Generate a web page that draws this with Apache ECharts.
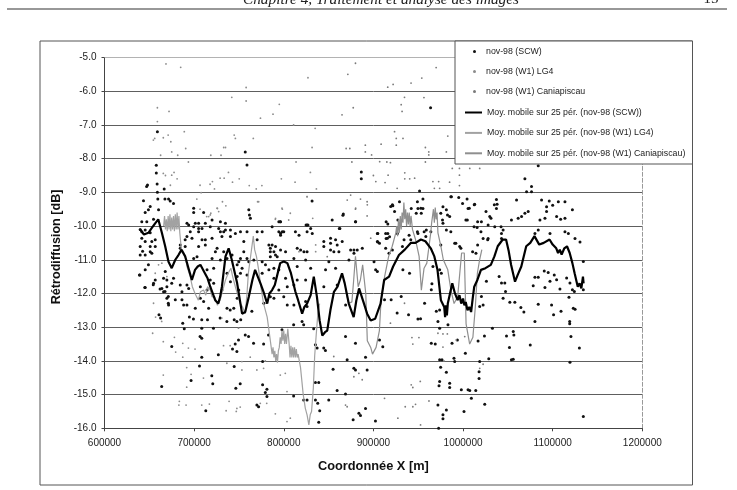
<!DOCTYPE html>
<html>
<head>
<meta charset="utf-8">
<style>html,body{margin:0;padding:0;background:#fff}#c{width:737px;height:490px}</style>
<script src="https://cdn.jsdelivr.net/npm/echarts@6/dist/echarts.min.js"></script>
</head>
<body>
<div id="c"></div>
<script>
// Coordinates are stored as [X in km, backscatter in dB].
const xTicks = [600000, 700000, 800000, 900000, 1000000, 1100000, 1200000];
const names = ['nov-98 (SCW)', 'nov-98 (W1) LG4', 'nov-98 (W1) Caniapiscau',
  'Moy. mobile sur 25 pér. (nov-98 (SCW))', 'Moy. mobile sur 25 pér. (nov-98 (W1) LG4)', 'Moy. mobile sur 25 pér. (nov-98 (W1) Caniapiscau)'];

const scwPoints = [
[643.5,-9.25],[645.4,-9.6],[660.3,-9.52],[659.5,-9.2],[667.4,-9.2],[671.5,-9.2],[673.3,-9.26],[677,-9.33],[699.5,-9.47],[699.5,-9.6],[710.6,-9.6],[720,-9.82],[729.3,-9.87],[734.9,-9.92],[761,-9.52],[761.7,-9.67],[762.8,-9.77],[651,-9.42],[649,-9.52],[641.6,-9.87],[647.2,-9.87],[654.7,-9.8],[639.8,-10.1],[641.6,-10.17],[645.4,-10.12],[651,-10.2],[641.6,-10.36],[652.8,-10.46],[656.6,-10.41],[645.4,-10.46],[639.8,-10.61],[651,-10.61],[656.6,-10.61],[651,-10.76],[652.8,-10.81],[645.4,-10.86],[639.8,-10.86],[649,-11.15],[692,-9.92],[693.9,-9.97],[701.3,-9.92],[705,-9.92],[705,-10.07],[699.5,-10.02],[695.7,-10.17],[705,-10.17],[708.8,-10.07],[712.5,-9.92],[718,-10.02],[727.4,-10.07],[734.9,-10.12],[740.5,-10.12],[729.3,-10.17],[733,-10.17],[751.7,-10.17],[759,-10.17],[770.3,-10.17],[775.9,-10.17],[787,-10.02],[794.5,-9.87],[796.4,-9.87],[794.5,-10.17],[796.4,-10.22],[798.3,-10.17],[796.4,-10.27],[800,-10.17],[826,-9.97],[813,-10.17],[826,-10.17],[692,-10.31],[690,-10.41],[697.6,-10.36],[708.8,-10.41],[712.5,-10.41],[720,-10.36],[731,-10.31],[740.5,-10.31],[746,-10.22],[755.4,-10.46],[770.3,-10.41],[783.4,-10.56],[787,-10.56],[785,-10.66],[790.8,-10.61],[785,-10.76],[789,-10.76],[796.4,-10.71],[802,-10.76],[785,-10.91],[790.8,-10.86],[792.7,-10.91],[830,-10.07],[831.8,-10.22],[815,-10.66],[818.8,-10.71],[822.5,-10.76],[826,-10.76],[817,-10.27],[684.5,-10.56],[684.5,-10.66],[690,-10.61],[705,-10.61],[712.5,-10.56],[725.6,-10.66],[733,-10.76],[723.7,-10.76],[742.3,-10.86],[755.4,-10.76],[759,-10.96],[751.7,-10.96],[749.8,-11.06],[761,-11.06],[766.6,-11.01],[775.9,-11.06],[779.6,-11.15],[783.4,-11.3],[824.4,-11.01],[811.3,-10.96],[815,-11.2],[830,-11.25],[699.5,-10.96],[703.2,-10.91],[720,-10.96],[729.3,-11.01],[736.7,-10.96],[748,-11.15],[753.5,-11.25],[714.4,-11.3],[721.8,-11.25],[736.7,-11.4],[751.7,-11.4],[759,-11.45],[775.9,-11.4],[789,-11.25],[794.5,-11.3],[789,-11.55],[802,-11.55],[811.3,-11.75],[815,-11.6],[824.4,-11.6],[740.5,-11.65],[748,-11.5],[718,-11.6],[721.8,-11.7],[639,-11.45],[645.4,-11.3],[667.8,-11.35],[665.9,-11.55],[656.6,-11.6],[669.6,-11.6],[677,-11.55],[675,-11.7],[669.6,-11.8],[664,-11.85],[665.9,-11.95],[645.4,-11.82],[654.7,-11.7],[692,-11.75],[693.9,-11.85],[686.4,-11.95],[684.5,-11.75],[706.9,-11.8],[714.4,-11.9],[731,-11.9],[749.8,-11.9],[785,-12.1],[794.5,-11.9],[803.9,-11.8],[803.9,-12.34],[811.3,-12.34],[824.4,-12.24],[826,-12.39],[669.6,-12.14],[679,-12.19],[686.4,-12.19],[688.3,-12.34],[692,-12.34],[671.5,-12.34],[706.9,-12.14],[710.6,-12.24],[716.2,-12.44],[701.3,-12.44],[748,-12.14],[777.8,-12.29],[789,-12.14],[800,-12.1],[736.7,-12.44],[744.2,-12.44],
[639.5,-11.45],[645,-11.82],[642.5,-10.75],[654.4,-11.74],[662,-11.87],[667.5,-11.94],[671.2,-12.09],[671.2,-12.29],[675,-13.57],[660.8,-12.63],[662.6,-12.73],[663.8,-14.76],[687.3,-12.88],[689,-13.05],[694.7,-12.7],[699.2,-12.76],[708.5,-12.78],[714.9,-12.78],[708.5,-13.03],[721.6,-13.03],[706.6,-13.28],[708.5,-13.33],[740.2,-12.49],[729,-12.73],[736.5,-12.83],[747.7,-12.83],[744.7,-12.78],[752,-12.78],[764.4,-12.53],[757,-13.23],[760.7,-13.28],[749.5,-13.38],[745.8,-13.5],[742.8,-13.65],[747.7,-13.72],[727,-13.82],[708.5,-13.89],[706,-14.15],[719.7,-14.44],[720.8,-14.68],[696.6,-14.58],[744.7,-14.17],[746.5,-14.81],[751.4,-14.68],[713,-15.48],[770,-15.31],[771.9,-15.36],[779.4,-14.94],[781.2,-14.84],[781.2,-15.06],[776.4,-14.71],[776.4,-14.02],[766.3,-13.48],[777.5,-13.5],[783,-13.23],[798,-13.08],[811,-12.93],[820.4,-12.83],[822.2,-12.93],[833.4,-13.05],[837.2,-13.62],[835.3,-13.52],[844.6,-13.62],[846.5,-13.69],[811,-15.04],[822.2,-15.16],[826,-15.16],[835.3,-14.64],[839,-14.64],[835.3,-15.16],[837.9,-15.26],[840.1,-15.48],[839,-15.82],[850.2,-15.16],[855,-14.25],[859.5,-14.88],[868.9,-14.98],[870.7,-13.97],[868.9,-13.28],[880,-13.48],[878.2,-14.22],[880,-14.27],[891.2,-13.89],[891.2,-15.41],[877.4,-15.75],[883.8,-15.55],[885.6,-15.62],[893,-14.27],
[912.4,-12.19],[919.8,-12.19],[931,-12.09],[926.5,-12.58],[939.2,-12.63],[949.7,-12.76],[952.6,-12.75],[906.8,-13.38],[910.5,-13.58],[965.3,-11.71],[964.6,-11.89],[957.1,-12.29],[970.2,-12.53],[973.9,-12.49],[972,-12.83],[983.2,-12.93],[973.9,-13.03],[964.6,-13.48],[969,-13.5],[987.7,-13.48],[993.7,-13.38],[1002.6,-13.77],[973.9,-13.97],[976.5,-13.97],[989.9,-13.92],[990.7,-14.02],[975,-14.19],[981.4,-14.34],[973.9,-14.61],[985.1,-14.66],[973.2,-14.74],[985.1,-14.79],[998.1,-14.86],[972,-15.31],[981.4,-15.46],[977.6,-15.6],[977.6,-15.72],[1001.1,-15.5],[1009.3,-15.11],[1024.2,-15.29],[902.3,-15.78],[972.8,-16],[1018.6,-14.02],[1017.9,-14.32],[1017.9,-14.52],[1007.5,-14.88],[1014.2,-14.88],[1005.6,-14.86],[1028.7,-13.94],[1054,-13.97],[1056,-13.95],[1119.3,-14.04],[1129.8,-13.62],[1120.4,-13.28],[1075,-13.53],[1051.8,-13.6],[1048.5,-13.26],[1056.7,-13.23],[1056,-13.13],[1023.9,-13.26],[1016.8,-13.41],[1032.8,-13.03],[1020.5,-12.09],[1022.4,-12.34],[1018.6,-12.39],[1044.7,-12.14],[1052.2,-12.26],[1057.8,-12.26],[1064.5,-12.42],[1067.9,-12.55],[1047.4,-11.94],[1080.2,-12.83],[1083.9,-12.32],[1098.8,-12.34],[1101,-12.63],[1109.3,-12.53],[1118.2,-12.11],[1123,-12.44],[1125,-12.47],[1119,-12.83],[1119,-12.9],[1134.2,-15.65],[1078.3,-11.77],[1080.2,-11.52],[1083.9,-11.52],[1090.6,-11.33],[1095,-11.38],[1101.8,-11.45],[1104.4,-11.59],[1115.6,-11.54],[1119.3,-11.69],[1122,-11.89],[1134.2,-11.89],[1124.2,-11.94],[1091.4,-11.82],[1097,-11.64],[1108.1,-11.87],[1042.9,-11.69],[1046.6,-11.69],[1026.1,-11.64],[1040.3,-11.5],[940.3,-11.4],[932.9,-11.3],[966.4,-11.2],[973.9,-11.3],[975.8,-11.4],[1134.2,-11.05],
[1083.9,-8.21],[1069,-8.6],[1076.4,-8.83],[1070.9,-8.98],[1076.4,-8.98],[951.5,-8.96],[987,-9.13],[955.3,-9.2],[995.2,-9.15],[1004.5,-9.2],[1037.3,-9.21],[1038,-9.35],[1059.7,-9.23],[1037.3,-9.48],[1013,-9.35],[1005.6,-9.48],[1087.6,-9.23],[1096.2,-9.26],[1106.3,-9.28],[1113.7,-9.28],[1100,-9.38],[1122,-9.52],[1093.2,-9.43],[1093.2,-9.57],[1072.7,-9.57],[1069,-9.62],[1065.3,-9.72],[1061.5,-9.77],[1054,-9.82],[1085.8,-9.82],[1091.4,-9.77],[1104.4,-9.72],[1108.9,-9.8],[1113.7,-9.77],[1029.8,-9.72],[1004.8,-9.82],[1020.5,-9.87],[1012.3,-10.02],[1015.7,-10.04],[1028,-9.97],[1035.4,-10.02],[1044.7,-10.12],[1042.9,-10.22],[955.3,-9.48],[949.7,-9.48],[942.2,-9.48],[929.1,-9.28],[921.7,-9.4],[923.6,-9.57],[927.3,-9.82],[914.2,-9.87],[916.1,-9.94],[947.8,-9.62],[953.4,-9.62],[981.4,-9.52],[977.6,-9.43],[985.1,-9.72],[977.6,-9.92],[981.4,-10.12],[990.7,-10.51],[996.3,-10.61],[904.9,-10.22],[916.1,-10.22],[918,-10.32],[914.2,-10.37],[904.9,-10.47],[906.8,-10.51],[949.7,-10.22],[959,-10.12],[1022.4,-10.37],[1028,-10.37],[1042.9,-10.37],[1083.9,-10.12],[1080.2,-10.22],[1097,-10.22],[1113.7,-10.17],[1124.9,-10.37],[1130.5,-10.47],[1117.5,-10.22],
[866.4,-9.64],[880.2,-9.87],[854,-9.82],[862.6,-10.07],[844.7,-10.46],[852.2,-10.36],[857.8,-10.41],[865.2,-10.46],[844.7,-10.61],[852.2,-10.51],[859.6,-10.56],[852.2,-10.71],[855.9,-10.76],[861.5,-10.76],[874.6,-10.71],[878.3,-10.71],[882,-10.71],[887.6,-10.66],[878.3,-10.81],[872.7,-11.01],[850.3,-11.06],[857.8,-11.25],[846.6,-11.3],[904.4,-10.22],[913.7,-10.22],[904.4,-10.46],[915.6,-10.36],[921.2,-9.37],[919.3,-9.42],[949.1,-9.28],[952.9,-9.47],[975.2,-9.62],[982.7,-9.67],[977.1,-9.82],[986.4,-10.17],[1003.2,-9.82],[1007,-9.47],[1012.5,-9.37],[999.5,-9.33],[986.4,-9.13],[1025.6,-9.57],[1016.3,-9.87],[1031.2,-9.77],[1020,-10.17],[1042.4,-10.02],[1034.9,-9.37],[1027.5,-10.41],[1016.3,-10.56],[1010.7,-10.76],[1014.4,-10.81],[992,-10.51],[997.6,-10.66],[939.8,-10.27],[949.1,-10.17],[956.6,-10.17],[964.1,-10.17],[934.2,-10.41],[941.7,-10.41],[958.5,-10.31],[975.2,-10.56],[926.8,-10.22],[900.7,-11.06],[904.4,-11.35],[917.4,-10.81],[921.2,-10.71],[902.5,-11.3],[913.7,-10.66],[932.4,-10.61],[844.7,-11.8],[859.6,-11.75],[869,-12.34],
[659,-7.2],[757,-7.8],[759,-8.19],[657.8,-8.2],[657.8,-8.43],[658.7,-8.75],[647,-8.83],[648,-8.78],[666.6,-8.9],[659,-9],[886.5,-8.4],[886.5,-8.6],[831.6,-9.26],[866,-9.68],[880,-9.87],[824.9,-9.97],[827,-9.97],[862,-10.07],[796,-9.87],[963.8,-6.49]
];

const lg4Points = [
[668.6,-5.19],[685,-5.29],[659,-6.49],[672,-6.6],[659,-6.9],[742,-6.18],[758,-5.89],[758,-6.29],[795,-6.39],[774,-6.8],[788,-6.68],[827,-5.6],[835,-7.1],[811,-7],[654.5,-7.45],[656,-7.4],[671,-7.3],[674,-7.5],[665.6,-7.38],[689,-7.2],[690.6,-7.7],[662.6,-7.9],[675,-7.8],[681.7,-7.9],[693.6,-8.1],[718.6,-7.9],[730,-7.9],[733,-7.67],[735,-7.67],[744.7,-7.3],[746,-7.4],[766,-7.4],[831.6,-7.67],[813.7,-8.1],
[665.6,-8.44],[668,-8.5],[675,-8.49],[677.6,-8.41],[681,-8.6],[673.5,-8.79],[706.6,-8.79],[717.8,-8.76],[720.4,-8.68],[722.7,-8.9],[729,-8.58],[733.5,-8.58],[738.3,-8.41],[742.8,-8.7],[750.3,-8.6],[761.5,-8.8],[775.6,-8.8],[769.3,-8.9],[797.3,-8.6],[812.6,-8.7],[829.7,-8.41],[836.4,-8.9],[770.8,-9.28],[798.4,-9.5],[807.3,-9.62],[826,-9.13],[832.3,-9.77],[703,-9.2],[707.8,-9.01],[706.6,-9.5],[714,-9.72],[718.6,-9.62],[726,-9.48],[731.6,-9.28],[735.4,-9.4],[790.6,-9.8],[805.5,-9.82],
[653.7,-13.18],[657,-12.7],[663.8,-12.83],[665.6,-14.42],[665.6,-13.43],[678,-13.3],[679.4,-13.74],[687.3,-13.48],[693.6,-13.62],[701,-13.65],[687.3,-13.89],[691.7,-14.2],[696.6,-14.4],[710.4,-14.51],[691.7,-14.78],[683.5,-15.2],[683,-15.31],[691,-15.31],[708.5,-15.31],[717,-15.28],[735.7,-15.48],[739,-15.2],[747.7,-15.41],[751.4,-15.37],[747,-15.5],[790.6,-15.57],[781,-15.26],[773.8,-15.26],[803.6,-15.8],[807.3,-15.7],[803.6,-14.91],[801.7,-14.37],[736.5,-14.07],[753.3,-14.27],[753.3,-14.02],[762.6,-13.89],[770,-14.27],[777.5,-14.22],[779.4,-14],[796.1,-14.42],[732.8,-13.55],[740.2,-13.55],[730.9,-12.73],[749.5,-13.03],
[660.3,-11.15],[664,-11.1],[656.6,-11.4],[669.6,-11.5],[654.7,-12.29],[725.6,-9.47],[718,-9.67],[716.2,-9.72],[727.4,-9.57],[772,-9.28],[798,-9.47],[817,-10.76],[835.6,-10.56],[835.6,-10.76],[790.8,-9.77],[826,-9.13]
];

const caniapiscauPoints = [
[871.5,-5.5],[880,-5.17],[877.5,-6.49],[865,-6.7],[891,-7.6],[869.6,-7.7],[873.7,-7.7],[891,-7.8],[876,-8.1],[885.6,-9.2],[893,-9.28],[880,-9.5],[893,-9.7],
[970,-5.3],[954,-5.61],[942,-5.76],[916,-5.88],[922,-5.8],[934.7,-6.18],[956.4,-6.19],[931,-6.4],[932,-6.6],[923.6,-7.2],[925.5,-7.4],[933,-7.4],[908.6,-7.57],[925.5,-7.6],[898,-7.89],[958,-7.67],[961.8,-7.8],[961.8,-7.89],[981.4,-7.8],[983,-7.33],[907,-8.09],[915,-8.1],[919,-8.12],[958,-8.1],[988,-8.29],[996,-8.29],[1007.5,-8.29],[1018.6,-8.29],[900,-8.5],[916.4,-8.49],[935,-8.42],[935,-8.6],[940.5,-8.6],[946,-8.58],[902.7,-8.68],[913,-8.71],[966.4,-8.68],[972.8,-8.68],[985,-8.7],[996,-8.49],[996,-8.8],[968,-8.88],[973.9,-8.88],[926.5,-8.88],
[868.9,-15.31],[878.2,-14.47],[883.8,-14.37],[887.5,-14.56],[855.8,-13.87],[870.7,-15.36],[942.2,-14.71],[944,-14.79],[952.3,-14.61],[944,-15.36],[935.5,-15.36],[947,-15.29],[962,-15.19],[927.3,-15.7],[952.6,-15.9],[912.4,-15.11],[943,-13.31],[950.8,-13.31],[944,-13.5],[972,-13.18],[977.6,-13.2],[982.5,-13.2],[977.6,-13.59],[992.5,-13.38],[1022.4,-14.1],[978.7,-14],[1001.9,-13.28],[1018.6,-14.22],[934.7,-12.29],[919,-12.88],
[874.6,-9.08],[870.8,-9.23],[880.2,-9.47],[893.2,-9.37],[897,-10.36],[848.5,-10.91]
];

const scwAverage = [
[639.7,-10.1],[644,-10.25],[649,-10.2],[653,-10.05],[656.5,-9.92],[660,-9.8],[662,-10],[664,-10.2],[667.7,-10.6],[671.4,-11.06],[675,-11.25],[679,-11],[682.5,-10.86],[686,-10.7],[690,-10.9],[693.7,-11.25],[697.5,-11.6],[701,-11.3],[704,-11.2],[707,-11.15],[712,-11.4],[715,-11.55],[718,-11.8],[723.5,-12.2],[727,-12.3],[729,-12.1],[731,-11.8],[735,-10.9],[738.5,-10.66],[742,-11],[748,-11.7],[753.5,-12.6],[757,-12.55],[761,-12.1],[765,-11.6],[768,-11.3],[771,-11.5],[774,-11.7],[778,-12],[781.5,-12.3],[784,-12],[787,-11.9],[790,-11.75],[796,-11.1],[800,-11.05],[804,-11.1],[808,-11.4],[813,-11.95],[816,-12.2],[820.5,-12.6],[823,-12.4],[826,-12.3],[830,-12.05],[833.5,-11.5],[837,-12.1],[840,-12.8],[843,-13.25],[846,-13.15],[848.5,-13.1],[852,-12.5],[856,-11.95],[860,-11.8],[865,-11.4],[868,-11.7],[872.5,-12.3],[878,-12.7],[881,-12.2],[884,-11.85],[889.5,-12.3],[893,-12.6],[897,-12.8],[902,-12.75],[908,-12.3],[912,-11.6],[917.5,-11.5],[922,-11.2],[928.5,-10.86],[935,-10.7],[941.7,-10.5],[947,-10.5],[953,-10.4],[958,-10.45],[964,-10.66],[968,-10.9],[971.5,-11.3],[975.3,-12.2],[979,-12.4],[980,-12.7],[981,-12.35],[982,-12.65],[983,-12.3],[984.5,-12.25],[988,-11.7],[991,-12],[994,-12.2],[996,-12.05],[998,-12.3],[1000,-12.15],[1001.5,-12.35],[1003,-12.25],[1005,-12.5],[1007,-12.4],[1009,-12.55],[1011,-12.1],[1012.5,-11.8],[1016,-11.6],[1020,-11.3],[1025,-11.25],[1031,-11.15],[1035,-10.9],[1038.7,-10.6],[1044.3,-10.4],[1048,-10.4],[1051,-10.75],[1053.6,-11.15],[1058,-11.65],[1061,-11.45],[1065,-11.2],[1070.5,-10.6],[1075,-10.5],[1079.7,-10.3],[1085,-10.55],[1090,-10.5],[1096.5,-10.4],[1100,-10.55],[1104,-10.66],[1106,-10.8],[1108,-10.7],[1110,-10.85],[1113,-10.66],[1116,-10.6],[1119,-10.8],[1122,-11.1],[1124.5,-11.4],[1128,-11.8],[1130,-11.7],[1132,-11.85],[1133.8,-11.5],[1134.5,-11.7]
];

const lg4Average = [
[666,-10],[667,-9.7],[668,-10.1],[669,-9.8],[670,-10.15],[671,-9.7],[672,-10.1],[673,-9.65],[674,-10.15],[675,-9.75],[676,-10.1],[677,-9.7],[678,-10.15],[679,-9.65],[680,-10.1],[681,-9.6],[682,-10.1],[683,-9.7],[684,-10.2],[686,-10.76],[690,-10.9],[692,-11.2],[695.6,-11.5],[698,-11.8],[701,-12],[704.7,-12.2],[707,-11.95],[710.5,-11.9],[713,-12.05],[715,-11.8],[718,-11.9],[720,-12.1],[723,-12.1],[726,-12.35],[729,-12.2],[732,-11.9],[735,-11.6],[738,-11.4],[741,-11.25],[743,-11.5],[746,-11.8],[751.5,-12.3],[754,-12.4],[757,-12.6],[759,-12],[760.5,-11.4],[763.5,-10.8],[765,-10.5],[766,-10.3],[767.5,-10.7],[769.5,-10.9],[772,-11.3],[775,-11.9],[777.5,-12.3],[781.5,-12.7],[784,-13.2],[787,-13.8],[788,-13.6],[789,-13.9],[790,-13.7],[791,-14],[792,-13.8],[793,-14.05],[794,-13.7],[795,-13.6],[796,-13.3],[797,-13.5],[798,-13.1],[799,-13.4],[800,-13.1],[801,-13.5],[802,-13.2],[803,-13.5],[804.5,-13.05],[806,-13.5],[807,-13.9],[808,-13.55],[809,-13.9],[810,-13.6],[811,-13.9],[812,-13.6],[813,-13.9],[814,-13.65],[815,-13.9],[816,-13.8],[818.7,-14.2],[821.7,-15],[824,-15.4],[826,-15.6],[828,-15.9],[829.5,-15.6],[831,-15.5],[833,-14.8],[834.5,-13.85],[836,-13.3],[838,-12.6],[840,-12.3]
];

const caniapiscauAverage = [
[869,-11.9],[872.5,-12.3],[876,-12.25],[878,-11.6],[880,-10.9],[883,-11.8],[885.5,-11.6],[888,-11.15],[891.5,-12],[893.2,-13.4],[897,-13.6],[899,-13.8],[903,-13.6],[906.7,-13.1],[908.5,-12.2],[912.5,-11.5],[917,-10.9],[921,-10.6],[925,-10.2],[926,-10],[927,-10.3],[928,-9.8],[929,-10.2],[930,-9.7],[931,-10.1],[932,-9.6],[933,-9.9],[934,-9.3],[935,-9.8],[936,-9.5],[937,-10],[938,-9.6],[939,-9.95],[940,-9.6],[941,-10],[942,-9.7],[943.6,-10.1],[947,-10.4],[951,-10.9],[953.5,-11.9],[956.5,-11.25],[959.6,-11.1],[964,-10.2],[965,-9.9],[966,-9.7],[967,-9.5],[968,-9.9],[969,-9.45],[970,-9.8],[971,-9.6],[972,-10.2],[975.3,-10.6],[978,-11],[983,-11.3],[986.5,-11.9],[990,-12.3],[994,-12.1],[998.4,-10.8],[1001.4,-10.8],[1003.4,-12.9],[1007.4,-13.5],[1011,-13.3],[1013.7,-12.4],[1016,-11.4],[1018.5,-11],[1021,-10.7]
];

const toMetres = pts => pts.map(p => [p[0] * 1000, p[1]]);
const dot = (name, data, color, size) => ({
  name, type: 'scatter', data: toMetres(data), symbolSize: size,
  itemStyle: { color, opacity: 1 }, silent: true, z: 2
});
const curve = (name, data, color, width, z) => ({
  name, type: 'line', data: toMetres(data), showSymbol: false, symbol: 'none',
  lineStyle: { color, width }, itemStyle: { color }, silent: true, z
});

const chart = echarts.init(document.getElementById('c'), null, { renderer: 'canvas' });
const sans = '"Liberation Sans", Arial, sans-serif';
const gridColor = '#5e5e5e';

chart.setOption({
  animation: false,
  backgroundColor: '#fff',
  textStyle: { fontFamily: sans },
  grid: { left: 104.5, top: 57.5, width: 537.8, height: 370.8, containLabel: false },
  xAxis: [{
    type: 'value', min: xTicks[0], max: xTicks[xTicks.length - 1], interval: 100000, position: 'bottom',
    name: 'Coordonnée X [m]', nameLocation: 'middle', nameGap: 32,
    nameTextStyle: { fontFamily: sans, fontWeight: 'bold', fontSize: 12.8, color: '#111' },
    axisLine: { lineStyle: { color: '#444', width: 1 } },
    axisTick: { show: true, length: 3, lineStyle: { color: '#444' } },
    axisLabel: { color: '#222', fontSize: 10, margin: 10, fontFamily: sans, formatter: v => String(v) },
    splitLine: { show: false }
  }, {
    type: 'value', min: xTicks[0], max: xTicks[xTicks.length - 1], interval: 100000, position: 'top',
    axisLine: { show: true, lineStyle: { color: '#aaa', width: 1, type: 'dotted' } },
    axisTick: { show: false }, axisLabel: { show: false }, splitLine: { show: false }
  }],
  yAxis: [{
    type: 'value', min: -16, max: -5, interval: 1, position: 'left',
    name: 'Rétrodiffusion [dB]', nameLocation: 'middle', nameGap: 33,
    nameTextStyle: { fontFamily: sans, fontWeight: 'bold', fontSize: 12.6, color: '#111', padding: [0, 8, 0, 0] },
    axisLine: { show: true, lineStyle: { color: '#444', width: 1 } },
    axisTick: { show: true, length: 3, lineStyle: { color: '#444' } },
    axisLabel: { color: '#222', fontSize: 10, margin: 8, fontFamily: sans, formatter: v => v.toFixed(1) },
    splitLine: { show: true, showMinLine: false, showMaxLine: false, lineStyle: { color: gridColor, width: 1 } }
  }, {
    type: 'value', min: -16, max: -5, interval: 1, position: 'right',
    axisLine: { show: true, lineStyle: { color: '#999', width: 1, type: 'dashed' } },
    axisTick: { show: false }, axisLabel: { show: false }, splitLine: { show: false }
  }],
  legend: [{
    data: names.slice(0, 3), orient: 'vertical', left: 473, top: 47, padding: 0,
    itemWidth: 3, itemHeight: 3, itemGap: 11, z: 20, selectedMode: false,
    textStyle: { fontFamily: sans, fontSize: 8.8, color: '#222', padding: [0, 0, 0, 5], lineHeight: 9 }
  }, {
    data: names.slice(3), orient: 'vertical', left: 464, top: 108, padding: 0,
    itemWidth: 17, itemHeight: 8, itemGap: 11.4, z: 20, selectedMode: false,
    itemStyle: { opacity: 0 },
    textStyle: { fontFamily: sans, fontSize: 8.8, color: '#222', lineHeight: 9 }
  }],
  series: [
    dot(names[0], scwPoints, '#111', 3),
    dot(names[1], lg4Points, '#8c8c8c', 1.8),
    dot(names[2], caniapiscauPoints, '#7a7a7a', 1.8),
    curve(names[4], lg4Average, '#a2a2a2', 1.2, 3),
    curve(names[5], caniapiscauAverage, '#8f8f8f', 1.2, 3),
    curve(names[3], scwAverage, '#000', 2.2, 4)
  ],
  graphic: [
    { type: 'rect', z: 1, shape: { x: 40, y: 41, width: 652.5, height: 444 }, style: { fill: 'none', stroke: '#555', lineWidth: 1 } },
    { type: 'rect', z: 10, shape: { x: 455, y: 41, width: 237.5, height: 123 }, style: { fill: '#fff', stroke: '#555', lineWidth: 1 } },
    { type: 'line', z: 1, shape: { x1: 7, y1: 9, x2: 727, y2: 9 }, style: { stroke: '#333', lineWidth: 1.2 } },
    { type: 'text', z: 1, style: { x: 381, y: 7, text: 'Chapitre 4, Traitement et analyse des images', align: 'center', verticalAlign: 'bottom', font: 'italic 15.3px "Liberation Serif", serif', fill: '#222' } },
    { type: 'text', z: 1, style: { x: 711, y: 7, text: '15', align: 'center', verticalAlign: 'bottom', font: '15px "Liberation Serif", serif', fill: '#222' } }
  ]
});
</script>
</body>
</html>
